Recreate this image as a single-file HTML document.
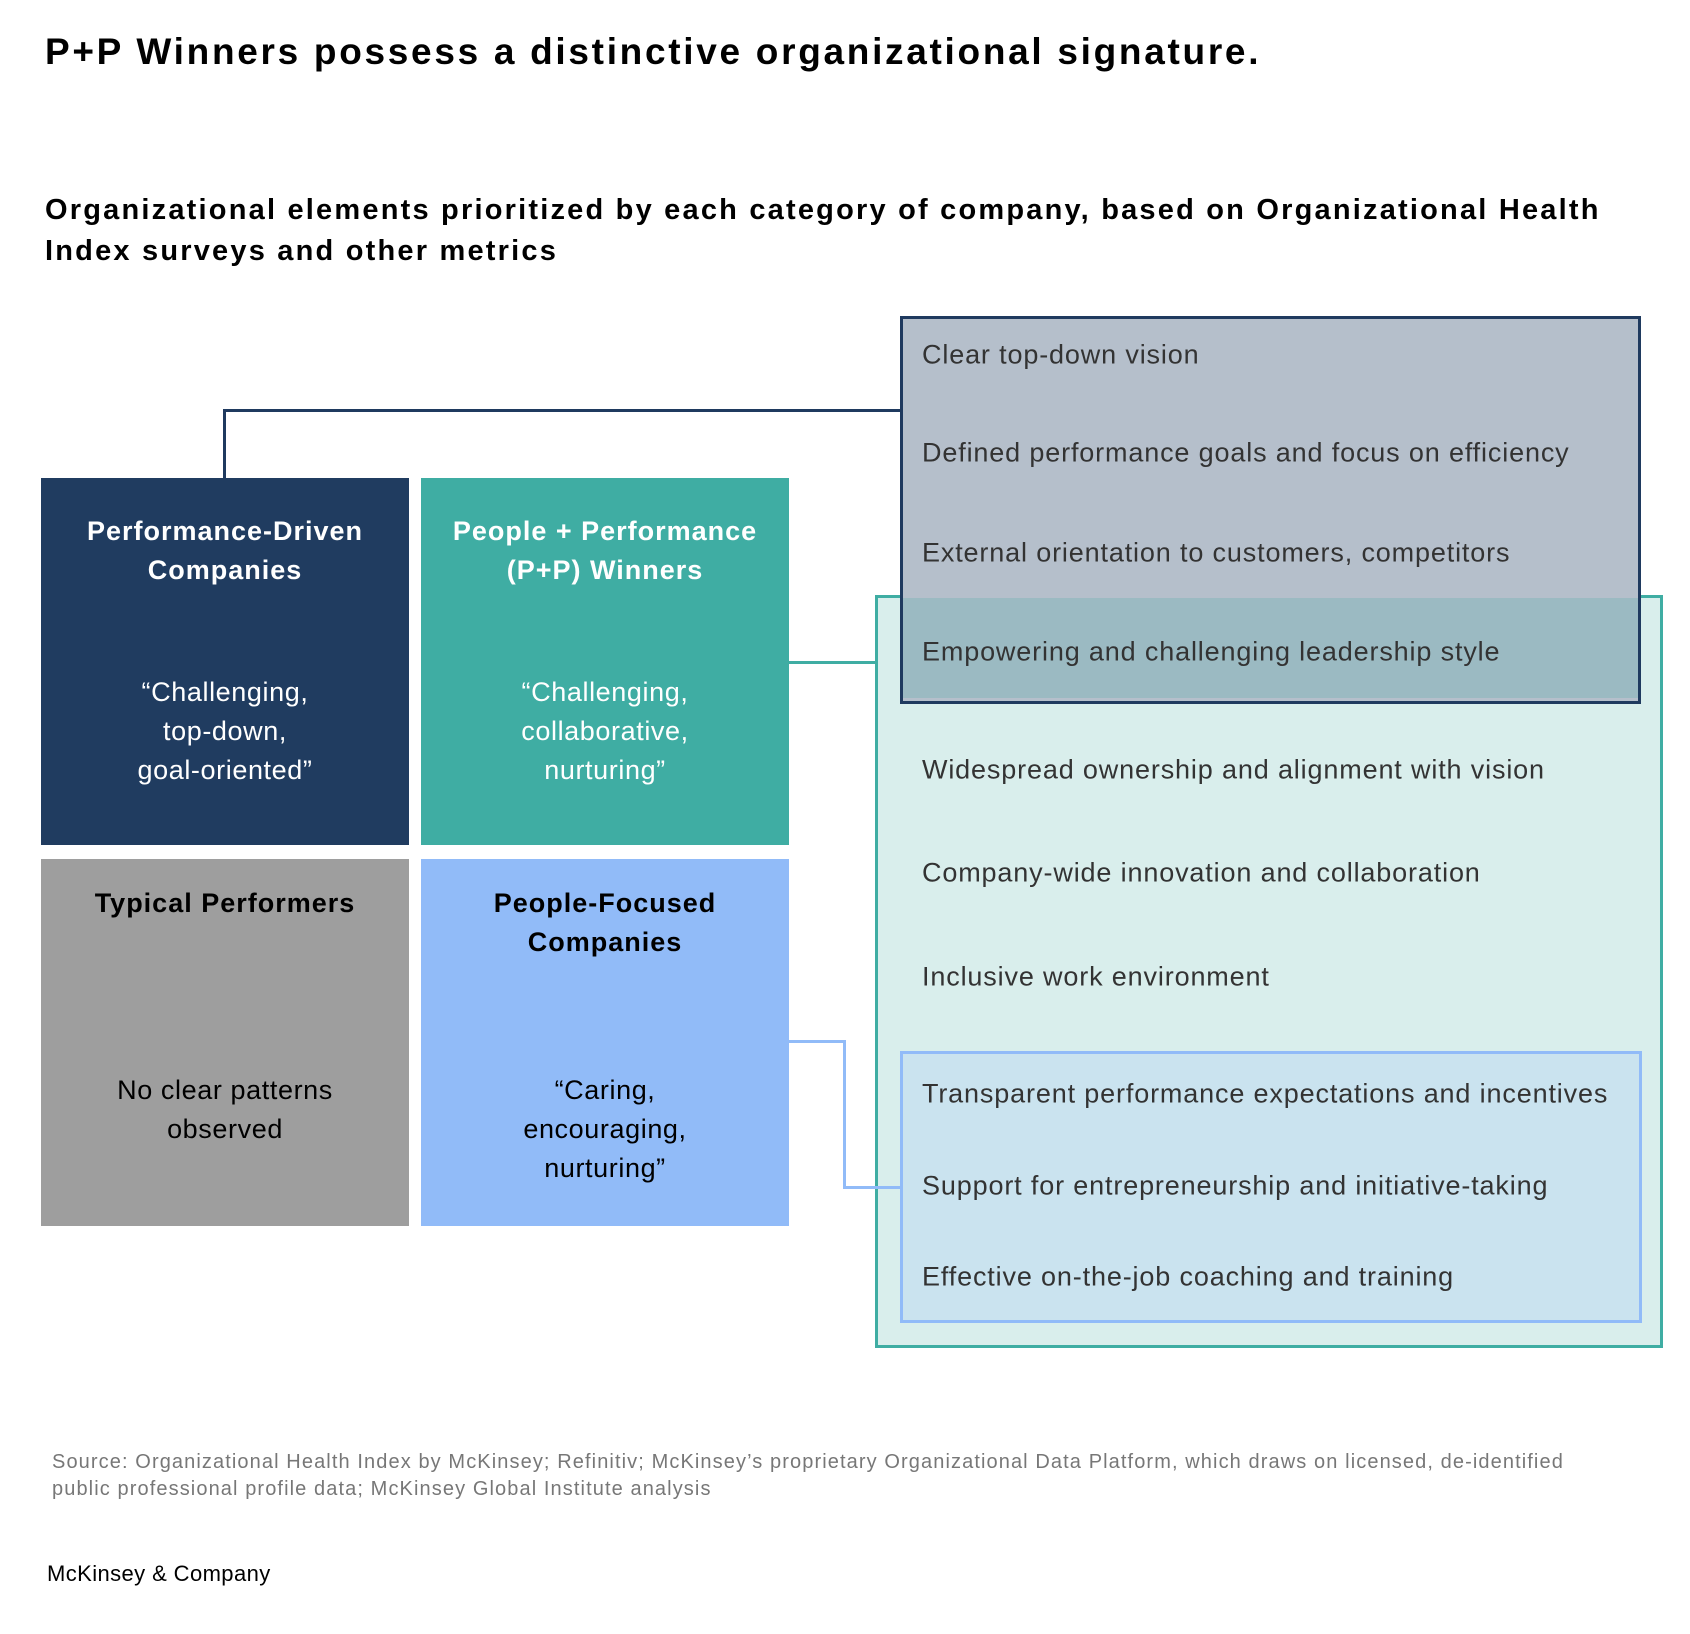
<!DOCTYPE html>
<html><head><meta charset="utf-8"><style>
body{margin:0;width:1690px;height:1634px;background:#fff;position:relative;font-family:"Liberation Sans",sans-serif;overflow:hidden}
.a{position:absolute}
.t{position:absolute;white-space:nowrap;line-height:1}
.it{position:absolute;left:922px;font-size:27px;color:#333;white-space:nowrap;transform:translateY(-50%);letter-spacing:0.85px}
.bx{position:absolute;width:368px;height:367px;text-align:center;font-size:27px;letter-spacing:0.6px}
.bx div{position:absolute;left:0;right:0;line-height:39px}
.h{font-weight:bold;letter-spacing:1px}
</style></head><body>
<div class="t" style="left:45px;top:33px;font-size:37px;font-weight:bold;color:#000;letter-spacing:2.7px">P+P Winners possess a distinctive organizational signature.</div>
<div class="a" style="left:45px;top:190px;font-size:29px;font-weight:bold;color:#000;line-height:41px;width:1640px;letter-spacing:2.2px">Organizational elements prioritized by each category of company, based on Organizational Health<br>Index surveys and other metrics</div>

<!-- connectors -->
<div class="a" style="left:223px;top:409px;width:3px;height:70px;background:#1f3a5f"></div>
<div class="a" style="left:223px;top:409px;width:678px;height:3px;background:#1f3a5f"></div>
<div class="a" style="left:789px;top:661px;width:87px;height:3px;background:#3fada3"></div>
<div class="a" style="left:789px;top:1040px;width:56px;height:3px;background:#91bbf8"></div>
<div class="a" style="left:843px;top:1040px;width:3px;height:149px;background:#91bbf8"></div>

<!-- right boxes -->
<div class="a" style="left:875px;top:595px;width:782px;height:747px;background:#d9eeec;border:3px solid #3fada3"></div>
<div class="a" style="left:843px;top:1186px;width:58px;height:3px;background:#91bbf8"></div>
<div class="a" style="left:900px;top:316px;width:735px;height:382px;background:#b5bfcb;border:3px solid #1f3a5f;box-sizing:content-box"></div>
<div class="a" style="left:903px;top:598px;width:735px;height:100px;background:#9bbac2"></div>
<div class="a" style="left:900px;top:1051px;width:736px;height:266px;background:#cae3ef;border:3px solid #91bbf8"></div>

<div class="it" style="top:355px">Clear top-down vision</div>
<div class="it" style="top:453px">Defined performance goals and focus on efficiency</div>
<div class="it" style="top:553px">External orientation to customers, competitors</div>
<div class="it" style="top:652px">Empowering and challenging leadership style</div>
<div class="it" style="top:770px">Widespread ownership and alignment with vision</div>
<div class="it" style="top:873px">Company-wide innovation and collaboration</div>
<div class="it" style="top:977px">Inclusive work environment</div>
<div class="it" style="top:1094px">Transparent performance expectations and incentives</div>
<div class="it" style="top:1186px">Support for entrepreneurship and initiative-taking</div>
<div class="it" style="top:1277px">Effective on-the-job coaching and training</div>

<!-- left boxes -->
<div class="bx" style="left:41px;top:478px;background:#203c60;color:#fff">
<div class="h" style="top:34px">Performance-Driven<br>Companies</div>
<div style="top:195px">“Challenging,<br>top-down,<br>goal-oriented”</div></div>
<div class="bx" style="left:421px;top:478px;background:#3fada3;color:#fff">
<div class="h" style="top:34px">People + Performance<br>(P+P) Winners</div>
<div style="top:195px">“Challenging,<br>collaborative,<br>nurturing”</div></div>
<div class="bx" style="left:41px;top:859px;background:#9e9e9e;color:#000">
<div class="h" style="top:25px">Typical Performers</div>
<div style="top:212px">No clear patterns<br>observed</div></div>
<div class="bx" style="left:421px;top:859px;background:#91bbf8;color:#000">
<div class="h" style="top:25px">People-Focused<br>Companies</div>
<div style="top:212px">“Caring,<br>encouraging,<br>nurturing”</div></div>

<div class="a" style="left:52px;top:1449px;font-size:20px;color:#777;line-height:27px;letter-spacing:1.1px;white-space:nowrap">Source: Organizational Health Index by McKinsey; Refinitiv; McKinsey’s proprietary Organizational Data Platform, which draws on licensed, de-identified<br>public professional profile data; McKinsey Global Institute analysis</div>
<div class="t" style="left:47px;top:1563px;font-size:22px;color:#000;letter-spacing:0.4px">McKinsey &amp; Company</div>
</body></html>
